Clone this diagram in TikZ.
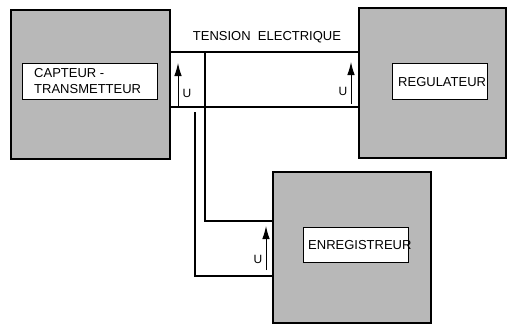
\documentclass[tikz,border=0pt]{standalone}
\usepackage{fontspec}
\setmainfont{Liberation Sans}
\usetikzlibrary{arrows.meta}
\begin{document}
\begin{tikzpicture}[x=1pt,y=-1pt,
 bigbox/.style={draw=black, line width=1.8pt, fill=black!28, anchor=north west, inner sep=0pt, outer sep=0pt},
 lblbox/.style={draw=black, line width=0.8pt, fill=white, anchor=north west, inner sep=0pt, outer sep=0pt},
 lbl/.style={font=\fontsize{13}{16}\selectfont, inner sep=0pt, anchor=west},
 wire/.style={line width=1.6pt},
 uarrow/.style={line width=1pt, -{Latex[length=13pt,width=7.5pt]}},
 ulbl/.style={font=\fontsize{12}{14}\selectfont, inner sep=0pt}]
\useasboundingbox (0,0) rectangle (508,325);
% boxes
\node[bigbox, minimum width=159pt, minimum height=149pt] (cap) at (11,10) {};
\node[lblbox, minimum width=135pt, minimum height=36pt] (capb) at (22,63) {};
\node[lbl, align=left] (capt) at (34,81) {CAPTEUR -\\TRANSMETTEUR};
\node[bigbox, minimum width=147pt, minimum height=150pt] (reg) at (359,8) {};
\node[lblbox, minimum width=95pt, minimum height=36pt] (regb) at (392,63) {};
\node[lbl] (regt) at (398,82) {REGULATEUR};
\node[bigbox, minimum width=158pt, minimum height=151pt] (enr) at (273,172) {};
\node[lblbox, minimum width=105pt, minimum height=35pt] (enrb) at (303,227) {};
\node[lbl] (enrt) at (308,245) {ENREGISTREUR};
\node[lbl, anchor=center] (title) at (267,37) {TENSION\ \ ELECTRIQUE};
% wires
\coordinate (a1) at (170,52); \coordinate (a2) at (359,52);
\coordinate (b1) at (170,107); \coordinate (b2) at (359,107);
\draw[wire] (a1) -- (a2);
\draw[wire] (b1) -- (b2);
\coordinate (v1) at (205,52); \coordinate (e1) at (273,221);
\draw[wire] (v1) |- (e1);
\coordinate (v2) at (195,112); \coordinate (e2) at (273,276);
\draw[wire] (v2) |- (e2);
% voltage arrows
\coordinate (u1s) at (178,107); \coordinate (u1e) at (178,63);
\draw[uarrow] (u1s) -- (u1e);
\node[ulbl] (u1) at (187,93) {U};
\coordinate (u2s) at (351,104); \coordinate (u2e) at (351,62);
\draw[uarrow] (u2s) -- (u2e);
\node[ulbl] (u2) at (343,91) {U};
\coordinate (u3s) at (266,270); \coordinate (u3e) at (266,226);
\draw[uarrow] (u3s) -- (u3e);
\node[ulbl] (u3) at (258,259) {U};
\end{tikzpicture}
\end{document}
